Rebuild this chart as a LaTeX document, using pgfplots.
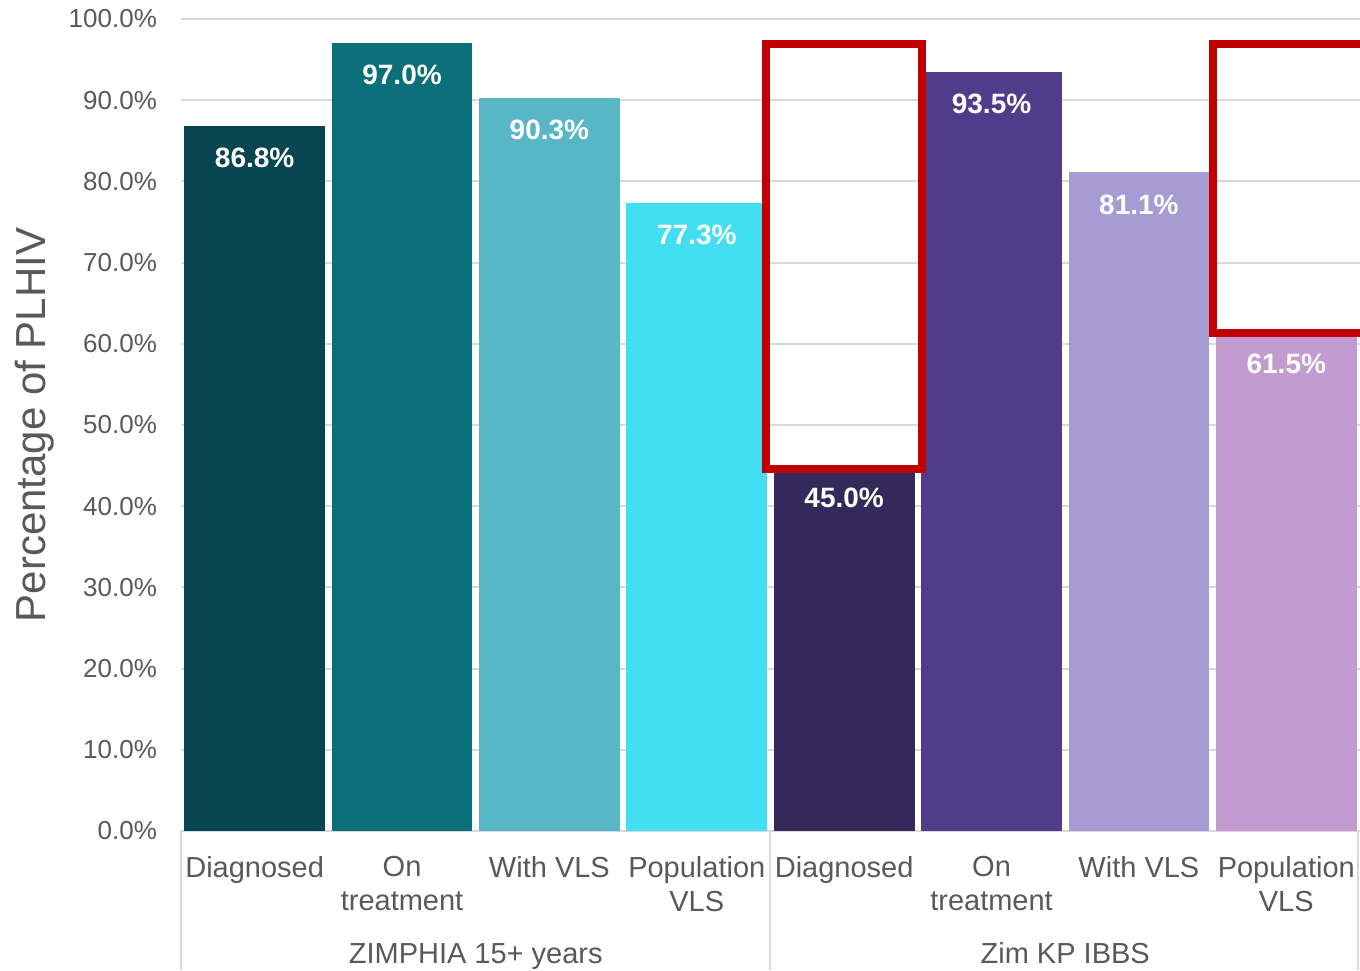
\documentclass[border=0pt]{standalone}
\usepackage{pgfplots}
\pgfplotsset{compat=1.18}
\usepackage{fontspec}
\setmainfont{Liberation Sans}
\definecolor{c1}{HTML}{074650}
\definecolor{c2}{HTML}{0B6F7A}
\definecolor{c3}{HTML}{59B6C6}
\definecolor{c4}{HTML}{43DEF2}
\definecolor{c5}{HTML}{34295B}
\definecolor{c6}{HTML}{4F3D8C}
\definecolor{c7}{HTML}{A69BD2}
\definecolor{c8}{HTML}{C29BD0}
\definecolor{txt}{HTML}{595959}
\definecolor{gridc}{HTML}{D9D9D9}
\definecolor{redbox}{HTML}{C00000}
\begin{document}
\begin{tikzpicture}
\useasboundingbox (-90.5pt,-69.5pt) rectangle (589.5pt,415.5pt);
\begin{axis}[
  width=589.5pt, height=406pt, scale only axis,
  xmin=-0.5, xmax=7.5, ymin=0, ymax=100,
  ybar, bar width=0.955,
  clip=false,
  axis x line=bottom, axis y line=left,
  x axis line style={-, draw=gridc, line width=1pt},
  y axis line style={draw=none},
  major tick length=0pt,
  ymajorgrids, grid style={draw=gridc, line width=1pt},
  ytick={0,10,...,100},
  yticklabel={\pgfmathprintnumber[fixed,fixed zerofill,precision=1]{\tick}\%},
  /pgf/number format/assume math mode=true,
  yticklabel style={font=\fontsize{13}{15}\selectfont, text=txt, xshift=-8.5pt},
  xtick={0,...,7},
  xticklabels={Diagnosed,{On\\treatment},With VLS,{Population\\VLS},Diagnosed,{On\\treatment},With VLS,{Population\\VLS}},
  xticklabel style={font=\fontsize{14.5}{17}\selectfont, text=txt, align=center, anchor=north, yshift=-9pt},
  ylabel={Percentage of PLHIV},
  ylabel style={at={(axis description cs:-0.1238,0.5)}, anchor=center, font=\fontsize{21}{24}\selectfont, text=txt},
  nodes near coords={\pgfmathprintnumber[fixed,fixed zerofill,precision=1]{\pgfplotspointmeta}\%},
  nodes near coords style={font=\bfseries\fontsize{14}{16}\selectfont, text=white, anchor=center, yshift=-16pt},
]
\addplot[fill=c1, draw=none, bar shift=0pt] coordinates {(0,86.8)};
\addplot[fill=c2, draw=none, bar shift=0pt] coordinates {(1,97.0)};
\addplot[fill=c3, draw=none, bar shift=0pt] coordinates {(2,90.3)};
\addplot[fill=c4, draw=none, bar shift=0pt] coordinates {(3,77.3)};
\addplot[fill=c5, draw=none, bar shift=0pt] coordinates {(4,45.0)};
\addplot[fill=c6, draw=none, bar shift=0pt] coordinates {(5,93.5)};
\addplot[fill=c7, draw=none, bar shift=0pt] coordinates {(6,81.1)};
\addplot[fill=c8, draw=none, bar shift=0pt] coordinates {(7,61.5)};
\draw[gridc, line width=1pt] (axis cs:-0.5,0) -- ([yshift=-69.5pt]axis cs:-0.5,0);
\draw[gridc, line width=1pt] (axis cs:3.5,0) -- ([yshift=-69.5pt]axis cs:3.5,0);
\draw[gridc, line width=1pt] (axis cs:7.485,0) -- ([yshift=-69.5pt]axis cs:7.485,0);
\node[font=\fontsize{14.5}{17}\selectfont, text=txt, anchor=base] at ([yshift=-66pt]axis cs:1.5,0) {ZIMPHIA 15+ years};
\node[font=\fontsize{14.5}{17}\selectfont, text=txt, anchor=base] at ([yshift=-66pt]axis cs:5.5,0) {Zim KP IBBS};
\draw[redbox, line width=4pt, line join=miter] (axis cs:3.469,44.6) rectangle (axis cs:4.527,96.9);
\draw[redbox, line width=4pt, line join=miter] (axis cs:6.505,61.3) rectangle (axis cs:8.3,96.9);
\end{axis}
\end{tikzpicture}
\end{document}
